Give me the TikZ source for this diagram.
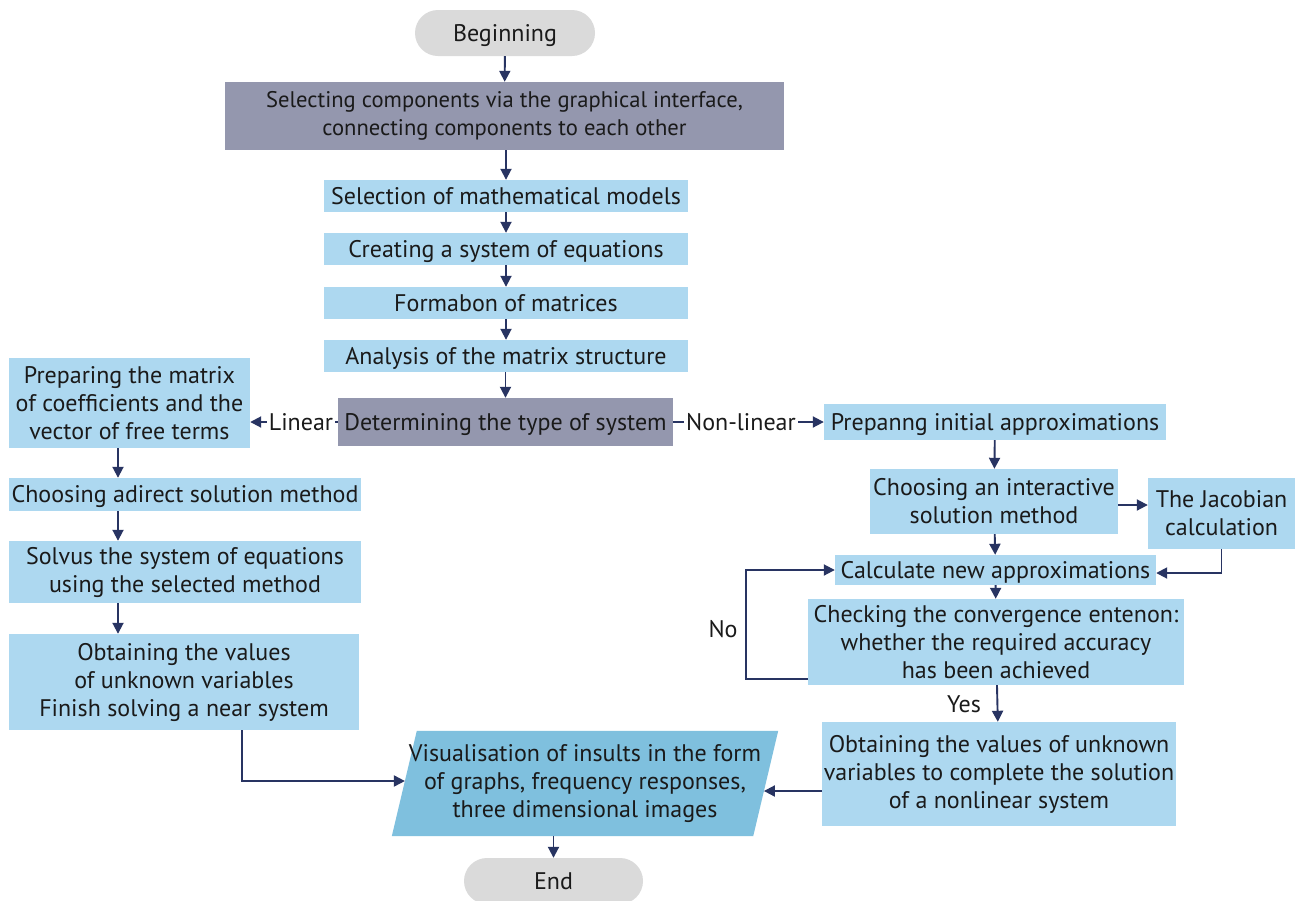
\documentclass[tikz,border=0pt]{standalone}
\usepackage{fontspec}
\setmainfont{PT Sans}
\usetikzlibrary{arrows.meta,positioning,calc}
\definecolor{lblue}{HTML}{ADD8F0}
\definecolor{dblue}{HTML}{7FC0DE}
\definecolor{gbox}{HTML}{9497AE}
\definecolor{pill}{HTML}{DADADA}
\definecolor{navy}{HTML}{283462}
\definecolor{txt}{HTML}{1A1A1A}
\begin{document}
\begin{tikzpicture}[x=1pt,y=-1pt,
  every node/.style={font=\fontsize{24}{28}\selectfont, text=txt},
  one/.style={text height=19pt, text depth=2.4pt},
  bx/.style={fill=lblue, inner sep=0pt, align=center},
  gb/.style={fill=gbox, inner sep=0pt, align=center},
  pl/.style={fill=pill, rounded corners=23pt, inner sep=0pt, minimum width=180pt, minimum height=46pt, one},
  arr/.style={draw=navy, line width=1.9pt, -{Triangle[length=11pt,width=11pt]}},
  lab/.style={fill=white, inner sep=2pt, one}]
\useasboundingbox (0,0) rectangle (1295,900);
\fill[white] (0,0) rectangle (1295,900);

\node[pl] (beg) at (505,33) {Beginning};
\node[gb, minimum width=559pt, minimum height=68pt, font=\fontsize{22.6}{28}\selectfont] (sel) at (504.5,116) {Selecting components via the graphical interface,\\connecting components to each other};
\node[bx, one, minimum width=364pt, minimum height=32pt] (mm) at (506,196) {Selection of mathematical models};
\node[bx, one, minimum width=364pt, minimum height=32pt] (cs) at (506,249) {Creating a system of equations};
\node[bx, one, minimum width=364pt, minimum height=32pt] (fm) at (506,303) {Formabon of matrices};
\node[bx, one, minimum width=364pt, minimum height=32pt] (an) at (506,356) {Analysis of the matrix structure};
\node[gb, one, minimum width=335pt, minimum height=48pt] (det) at (505.5,422) {Determining the type of system};

\node[bx, minimum width=241pt, minimum height=90pt] (prep) at (129.5,403) {Preparing the matrix\\of coefficients and the\\vector of free terms};
\node[bx, one, minimum width=352pt, minimum height=33pt] (dir) at (185,494.5) {Choosing adirect solution method};
\node[bx, minimum width=352pt, minimum height=62pt] (sol) at (185,572) {Solvus the system of equations\\using the selected method};
\node[bx, minimum width=350pt, minimum height=96pt] (obtL) at (184,682) {Obtaining the values\\of unknown variables\\Finish solving a near system};

\node[bx, one, minimum width=342pt, minimum height=36pt] (ini) at (995,422) {Prepanng initial approximations};
\node[bx, minimum width=248pt, minimum height=65pt] (itr) at (994,501.5) {Choosing an interactive\\solution method};
\node[bx, minimum width=147pt, minimum height=71pt] (jac) at (1221.5,513.5) {The Jacobian\\calculation};
\node[bx, one, minimum width=321pt, minimum height=30pt] (cal) at (995.5,570) {Calculate new approximations};
\node[bx, minimum width=376pt, minimum height=86pt] (chk) at (996,642) {Checking the convergence entenon:\\whether the required accuracy\\has been achieved};
\node[bx, minimum width=354pt, minimum height=104pt] (obtR) at (999,774) {Obtaining the values of unknown\\variables to complete the solution\\of a nonlinear system};

\node[minimum width=361pt, minimum height=105pt, inner sep=0pt] (vis) at (585,783.5) {};
\fill[dblue] ([xshift=-12.5pt]vis.south west) -- ([xshift=12.5pt]vis.north west) -- ([xshift=12.5pt]vis.north east) -- ([xshift=-12.5pt]vis.south east) -- cycle;
\node[align=center] at (vis.center) {Visualisation of insults in the form\\of graphs, frequency responses,\\three dimensional images};
\node[pl, minimum width=179pt] (end) at (553.5,881) {End};

\draw[arr] (beg) -- (sel);
\draw[arr] (sel.south -| mm.north) -- (mm);
\draw[arr] (mm) -- (cs);
\draw[arr] (cs) -- (fm);
\draw[arr] (fm) -- (an);
\draw[arr] (an.south -| det.north) -- (det);
\draw[arr] (det.west) -- (det.west -| prep.east) node[lab, pos=0.42] {Linear};
\draw[arr] (det.east) -- (ini.west) node[lab, pos=0.45] {Non-linear};
\draw[arr] ([xshift=-11.5pt]prep.south) -- ([xshift=-11.5pt]prep.south |- dir.north);
\draw[arr] ([xshift=-67pt]dir.south) -- ([xshift=-67pt]dir.south |- sol.north);
\draw[arr] ([xshift=-67pt]sol.south) -- ([xshift=-67pt]sol.south |- obtL.north);
\coordinate (vl) at ([xshift=0.6pt,yshift=2.5pt]vis.west);
\draw[arr] ([xshift=58pt]obtL.south) |- (vl);
\draw[arr] (ini) -- (itr);
\draw[arr] ([yshift=-3.5pt]itr.east) -- ([yshift=-3.5pt]itr.east -| jac.west);
\draw[arr] (itr) -- (cal);
\draw[arr] (jac.south) |- ([yshift=-3pt]cal.east);
\draw[arr] (cal) -- (chk);
\coordinate (nob) at ([yshift=-37pt]chk.west);
\coordinate (nol) at (746,0);
\draw[arr] (nob) -- (nob -| nol) |- (cal.west);
\node[one] at (723,629) {No};
\draw[arr] (chk) -- (obtR);
\node[one] at (964,704) {Yes};
\coordinate (vr) at ([xshift=-1.8pt,yshift=-7.5pt]vis.east);
\draw[arr] ([yshift=-17pt]obtR.west) -- (vr);
\draw[arr] ([xshift=-31.5pt]vis.south) -- ([xshift=-31.5pt]vis.south |- end.north);
\end{tikzpicture}
\end{document}
